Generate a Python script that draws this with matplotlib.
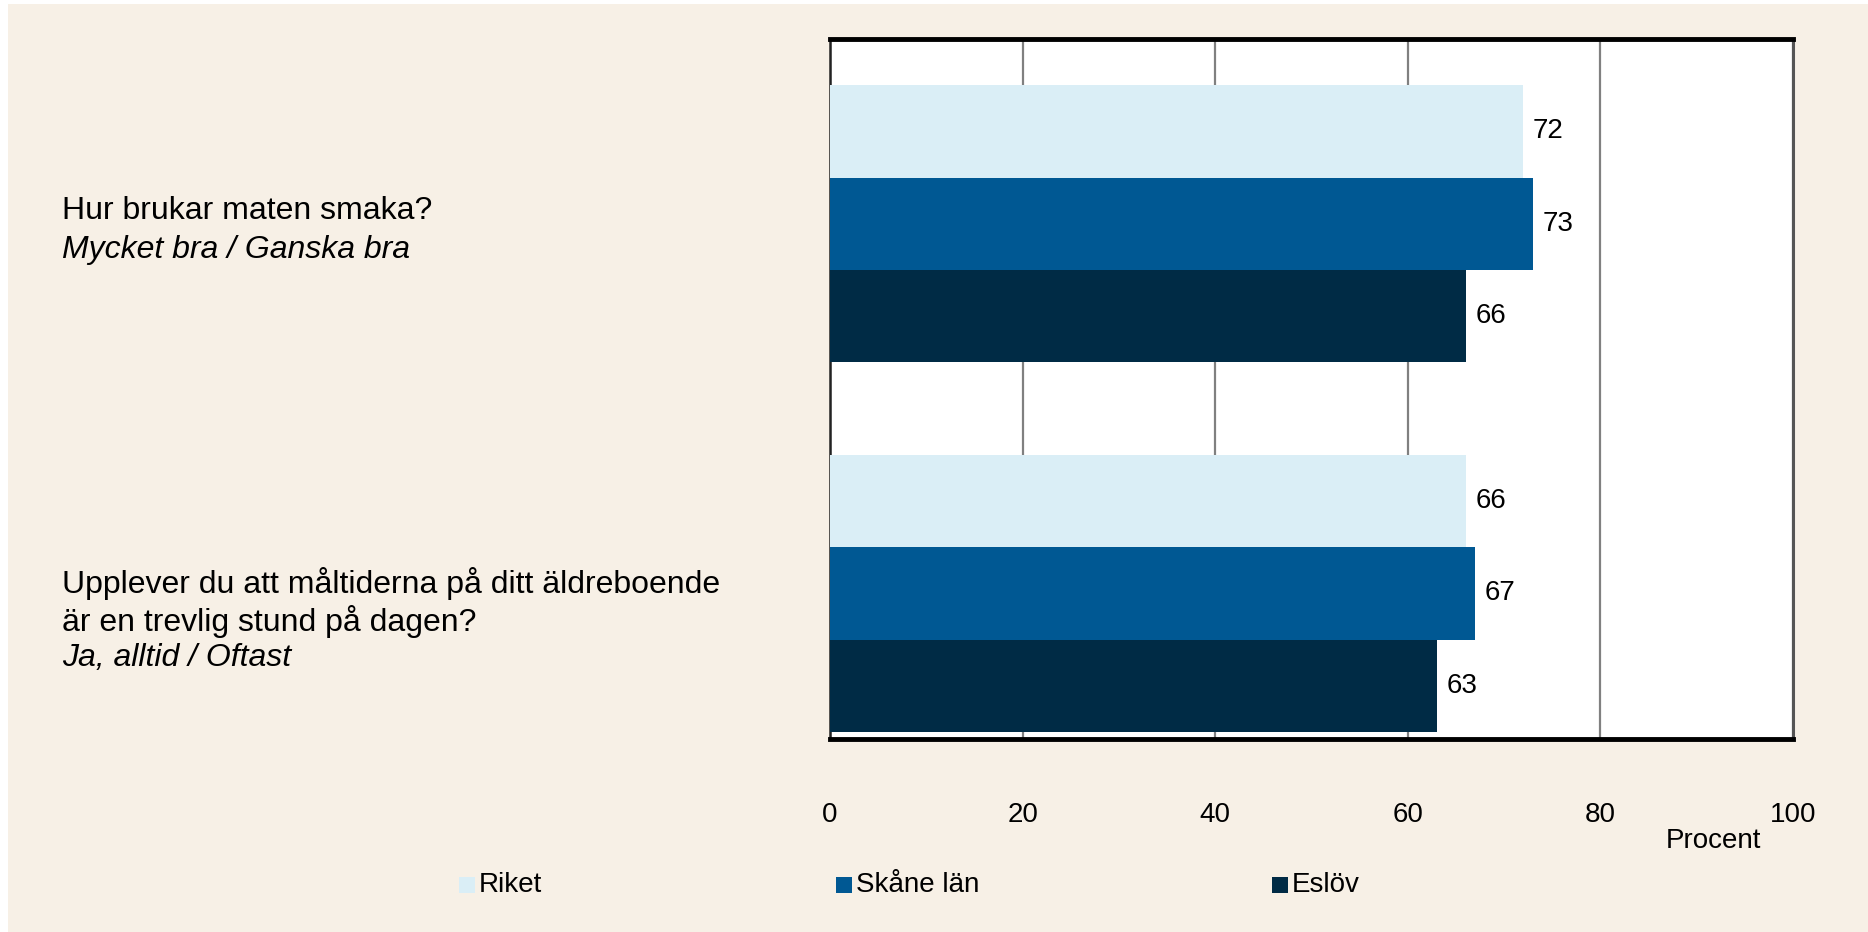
import matplotlib.pyplot as plt
from matplotlib.patches import Rectangle

plt.rcParams['font.family'] = ['Liberation Sans', 'DejaVu Sans']

### Data ###
questions = [
    ["Hur brukar maten smaka?"],
    ["Upplever du att måltiderna på ditt äldreboende", "är en trevlig stund på dagen?"],
]
answers = ["Mycket bra / Ganska bra", "Ja, alltid / Oftast"]
series = ["Riket", "Skåne län", "Eslöv"]
values = {
    "Riket": [72, 66],
    "Skåne län": [73, 67],
    "Eslöv": [66, 63],
}
colors = ["#DAEEF6", "#005893", "#002B45"]
xticks = [0, 20, 40, 60, 80, 100]

BG = "#F7F0E6"
W, H = 1868, 932

def main():
    fig = plt.figure(figsize=(W / 100, H / 100), dpi=100)
    fig.patch.set_facecolor("white")
    fig.patches.append(Rectangle((8 / W, 0), 1 - 8 / W, 1 - 4 / H,
                                 transform=fig.transFigure, facecolor=BG,
                                 edgecolor="none", zorder=-10))

    ax = fig.add_axes([830 / W, 1 - 739 / H, (1793 - 830) / W, (739 - 39) / H])
    ax.set_facecolor("white")

    bh = 0.25
    for i, (name, c) in enumerate(zip(series, colors)):
        ys = [g + (i - 1) * bh for g in range(len(questions))]
        bars = ax.barh(ys, values[name], height=bh, color=c, zorder=3)
        for b, v in zip(bars, values[name]):
            ax.annotate(str(v), (b.get_width(), b.get_y() + bh / 2),
                        xytext=(7, 0), textcoords="offset points",
                        va="center", ha="left", fontsize=20)

    ax.set_xlim(0, 100)
    ax.set_ylim(1.394, -0.5)
    ax.set_yticks([])
    ax.set_xticks(xticks)
    ax.tick_params(axis="x", length=0, pad=45, labelsize=20)
    ax.grid(axis="x", color="#808080", lw=1.6, zorder=1)
    for s in ["top", "bottom"]:
        ax.spines[s].set_linewidth(3.5)
        ax.spines[s].set_color("black")
    ax.spines["left"].set_linewidth(1.8)
    ax.spines["left"].set_color("#222222")
    ax.spines["right"].set_linewidth(2.2)
    ax.spines["right"].set_color("#555555")

    fig.text(1713 / W, 1 - 841 / H, "Procent", ha="center", va="center", fontsize=20)

    # question labels, one text per line
    line_y = [[211], [584, 621]]
    ans_y = [250, 658]
    for q, ly, a, ay in zip(questions, line_y, answers, ans_y):
        for line, y in zip(q, ly):
            fig.text(62 / W, 1 - y / H, line, ha="left", va="center", fontsize=23)
        fig.text(62 / W, 1 - ay / H, a, ha="left", va="center",
                 fontsize=23, style="italic")

    # legend
    leg_x = [459, 836, 1272]
    for x, name, c in zip(leg_x, series, colors):
        fig.patches.append(Rectangle((x / W, 1 - 893 / H), 16 / W, 16 / H,
                                     transform=fig.transFigure, facecolor=c,
                                     edgecolor="none"))
        fig.text((x + 20) / W, 1 - 885 / H, name, ha="left", va="center", fontsize=20)

    fig.savefig("out.png", dpi=100, facecolor=fig.get_facecolor())

if __name__ == "__main__":
    main()
